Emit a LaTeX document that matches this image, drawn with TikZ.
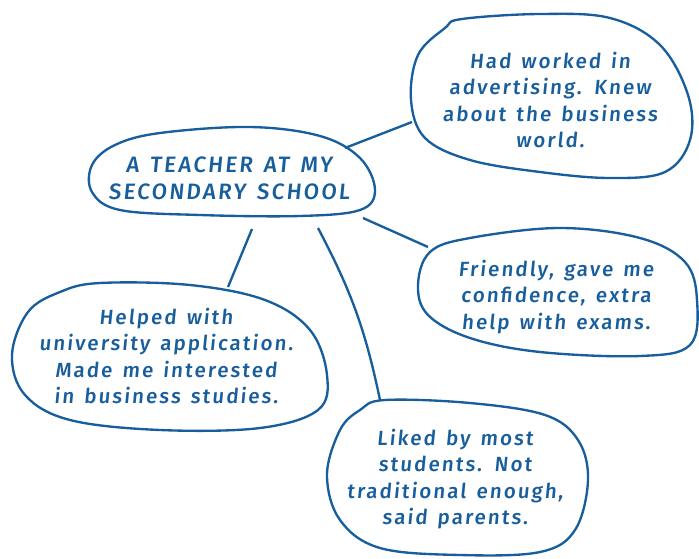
\documentclass[tikz,border=0pt]{standalone}
\usepackage{fontspec}
\setmainfont{Fira Sans Medium}[LetterSpace=10,WordSpace=1.4,FakeSlant=0.1]
\definecolor{inkblue}{RGB}{24,94,156}
\begin{document}
\begin{tikzpicture}[x=0.03cm,y=-0.03cm,line width=2pt,inkblue,
    blob/.style={draw=inkblue,line join=round},
    note/.style={text=inkblue,align=center,font=\fontsize{17.5}{22.5}\selectfont},
    headnote/.style={note,font=\fontsize{19}{23}\selectfont}]

      \useasboundingbox (0,0) rectangle (699,558);

      \begin{scope}[every node/.style={note}]
        \node[headnote] (teacher)  at (229,178) {A TEACHER AT MY\\SECONDARY SCHOOL};
        \node (advert)   at (550,100) {Had worked in\\advertising. Knew\\about the business\\world.};
        \node (friendly) at (556,297) {Friendly, gave me\\confidence, extra\\help with exams.};
        \node (helped)   at (166,356) {Helped with\\university application.\\Made me interested\\in business studies.};
        \node (liked)    at (455,479) {Liked by most\\students. Not\\traditional enough,\\said parents.};
      \end{scope}

      \begin{scope}[blob]
        \draw plot[smooth cycle,tension=0.6] coordinates {(160,133) (250,127) (320,136) (360,158) (375,190) (360,210) (300,216) (200,215) (120,210) (92,192) (92,165) (115,145)};
        \draw plot[smooth cycle,tension=0.6] coordinates {(462,19) (540,14) (610,18) (660,45) (688,95) (690,140) (665,172) (610,178) (540,172) (470,160) (425,138) (411,100) (418,55) (445,28)};
        \draw plot[smooth cycle,tension=0.6] coordinates {(470,238) (560,228) (640,238) (685,262) (697,300) (690,345) (640,356) (540,352) (470,338) (428,315) (418,285) (430,252)};
        \draw plot[smooth cycle,tension=0.6] coordinates {(100,283) (190,285) (265,300) (310,330) (327,375) (318,410) (260,428) (160,430) (70,420) (25,395) (12,355) (28,312) (60,292)};
        \draw plot[smooth cycle,tension=0.6] coordinates {(385,400) (470,403) (545,415) (578,440) (588,480) (575,530) (540,552) (460,555) (380,548) (340,520) (327,475) (340,430) (360,410)};
      \end{scope}

      \coordinate (t1) at (345,148);
      \coordinate (a1) at (412,122);
      \coordinate (t2) at (363,218);
      \coordinate (f1) at (428,247);
      \coordinate (t3) at (252,229);
      \coordinate (h1) at (228,287);
      \coordinate (t4) at (318,228);
      \coordinate (l1) at (380,400);

      \draw (t1) -- (a1);
      \draw (t2) -- (f1);
      \draw (t3) -- (h1);
      \draw (t4) to[bend left=8] (l1);

    \end{tikzpicture}
\end{document}
